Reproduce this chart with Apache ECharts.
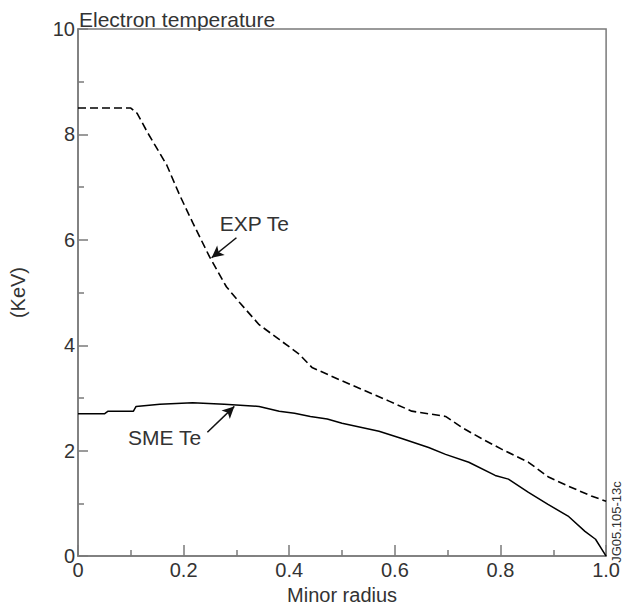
<!DOCTYPE html>
<html>
<head>
<meta charset="utf-8">
<script src="https://cdn.jsdelivr.net/npm/echarts@6/dist/echarts.min.js"></script>
<style>html,body{margin:0;padding:0;background:#fff;}#c{width:623px;height:610px;}</style>
</head>
<body>
<div id="c"></div>
<script>
// Data
const expR  = [0, 0.10, 0.112, 0.132, 0.168, 0.192, 0.217, 0.249, 0.281, 0.306, 0.343, 0.381, 0.419, 0.443, 0.494, 0.538, 0.589, 0.632, 0.696, 0.727, 0.764, 0.802, 0.853, 0.891, 0.928, 0.972, 1.0];
const expTe = [8.5, 8.5, 8.4, 8.03, 7.42, 6.86, 6.33, 5.68, 5.11, 4.81, 4.39, 4.11, 3.83, 3.58, 3.35, 3.16, 2.94, 2.75, 2.65, 2.44, 2.23, 2.03, 1.78, 1.50, 1.33, 1.14, 1.04];
const smeR  = [0, 0.05, 0.057, 0.105, 0.11, 0.155, 0.217, 0.277, 0.343, 0.381, 0.41, 0.44, 0.472, 0.5, 0.57, 0.613, 0.664, 0.696, 0.74, 0.79, 0.815, 0.853, 0.89, 0.928, 0.96, 0.98, 1.0];
const smeTe = [2.7, 2.7, 2.75, 2.75, 2.84, 2.88, 2.91, 2.88, 2.84, 2.75, 2.71, 2.65, 2.6, 2.52, 2.37, 2.23, 2.06, 1.93, 1.78, 1.53, 1.46, 1.21, 0.98, 0.76, 0.47, 0.32, 0];
const xTicks = [0, 0.2, 0.4, 0.6, 0.8, 1.0];
const yTicks = [0, 2, 4, 6, 8, 10];
const texts = { title: 'Electron temperature', xName: 'Minor radius', yName: '(KeV)', exp: 'EXP Te', sme: 'SME Te', code: 'JG05.105-13c' };

const expData = expR.map((r, i) => [r, expTe[i]]);
const smeData = smeR.map((r, i) => [r, smeTe[i]]);

const axisColor = '#7a7a7a';
const textColor = '#333';
const font = 'Liberation Sans, Arial, Helvetica, sans-serif';

const chart = echarts.init(document.getElementById('c'), null, { renderer: 'svg' });
chart.setOption({
  backgroundColor: '#fff',
  animation: false,
  title: {
    text: texts.title, left: 79, top: 9, padding: 0,
    textStyle: { fontFamily: font, fontSize: 21, fontWeight: 'normal', color: textColor }
  },
  grid: { left: 78, right: 15, top: 29, bottom: 53, show: true, borderColor: axisColor, borderWidth: 1.5, containLabel: false },
  xAxis: {
    type: 'value', min: 0, max: 1, interval: 0.2,
    name: texts.xName, nameLocation: 'middle', nameGap: 27,
    nameTextStyle: { fontFamily: font, fontSize: 20, color: textColor },
    axisLine: { show: true, lineStyle: { color: axisColor, width: 1.5 } },
    axisTick: { show: true, inside: true, length: 11, lineStyle: { color: axisColor, width: 1.5 } },
    minorTick: { show: true, splitNumber: 2, length: 6, lineStyle: { color: axisColor, width: 1.5 } },
    splitLine: { show: false },
    axisLabel: {
      fontFamily: font, fontSize: 20, color: textColor, margin: 4,
      formatter: v => { const t = xTicks.find(k => Math.abs(k - v) < 1e-9); return t === 0 ? '0' : t.toFixed(1); }
    }
  },
  yAxis: {
    type: 'value', min: 0, max: 10, interval: 2,
    name: texts.yName, nameLocation: 'middle', nameGap: 50, nameRotate: 90,
    nameTextStyle: { fontFamily: font, fontSize: 20, color: textColor },
    axisLine: { show: true, lineStyle: { color: axisColor, width: 1.5 } },
    axisTick: { show: true, inside: true, length: 10, lineStyle: { color: axisColor, width: 1.5 } },
    minorTick: { show: true, splitNumber: 2, length: 6, lineStyle: { color: axisColor, width: 1.5 } },
    splitLine: { show: false },
    axisLabel: {
      fontFamily: font, fontSize: 20, color: textColor, margin: 3,
      formatter: v => String(yTicks.find(k => Math.abs(k - v) < 1e-9))
    }
  },
  series: [
    {
      type: 'line', data: expData, symbol: 'none', silent: true,
      lineStyle: { color: '#000', width: 1.6, type: [8, 4] },
      markLine: {
        silent: true, symbol: ['none', 'arrow'], symbolSize: [9, 12],
        lineStyle: { color: '#111', width: 1.5, type: 'solid' }, label: { show: false },
        data: [[{ coord: [0.30, 6.04] }, { coord: [0.253, 5.66] }]]
      },
      markPoint: {
        silent: true, symbol: 'circle', symbolSize: 0,
        label: { show: true, position: 'inside', fontFamily: font, fontSize: 21, color: textColor, formatter: texts.exp },
        data: [{ coord: [0.334, 6.31] }]
      }
    },
    {
      type: 'line', data: smeData, symbol: 'none', silent: true,
      lineStyle: { color: '#000', width: 1.5 },
      markLine: {
        silent: true, symbol: ['none', 'arrow'], symbolSize: [9, 12],
        lineStyle: { color: '#111', width: 1.5, type: 'solid' }, label: { show: false },
        data: [[{ coord: [0.245, 2.35] }, { coord: [0.296, 2.84] }]]
      },
      markPoint: {
        silent: true, symbol: 'circle', symbolSize: 0,
        label: { show: true, position: 'inside', fontFamily: font, fontSize: 21, color: textColor, formatter: texts.sme },
        data: [{ coord: [0.164, 2.25] }]
      }
    }
  ],
  graphic: [{
    type: 'text', x: 616, y: 522, rotation: Math.PI / 2,
    style: { text: texts.code, fontFamily: font, fontSize: 13, fill: textColor, textAlign: 'center', textVerticalAlign: 'middle' }
  }]
});
</script>
</body>
</html>
